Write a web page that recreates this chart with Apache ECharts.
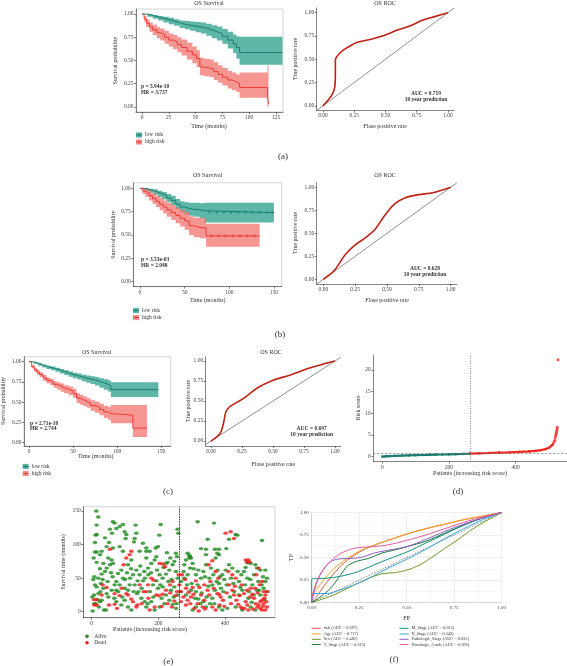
<!DOCTYPE html>
<html><head><meta charset="utf-8">
<script src="https://cdn.jsdelivr.net/npm/echarts@6/dist/echarts.min.js"></script>
<style>html,body{margin:0;padding:0;background:#fff}#c{width:567px;height:666px}</style>
</head><body><div id="c"></div><script>
// ---------------- DATA ----------------
// (a) Kaplan-Meier
const aLowT  = [0,5,10,15,20,25,30,35,40,45,50,55,60,65,70,75,80,85,88,91,131];
const aLowS  = [1,0.985,0.97,0.955,0.94,0.925,0.91,0.89,0.88,0.87,0.86,0.85,0.83,0.81,0.79,0.76,0.72,0.68,0.64,0.585,0.585];
const aLowLo = [1,0.97,0.95,0.93,0.91,0.89,0.875,0.85,0.835,0.82,0.805,0.79,0.765,0.74,0.715,0.68,0.63,0.58,0.52,0.455,0.455];
const aLowHi = [1,1,0.99,0.98,0.97,0.96,0.945,0.93,0.925,0.92,0.915,0.91,0.895,0.88,0.865,0.84,0.81,0.78,0.76,0.755,0.755];
const aHighT  = [0,2,4,7,10,14,17,21,25,29,33,37,42,47,51,54,58,63,67,71,75,80,84,88,91,117,118];
const aHighS  = [1,0.95,0.9,0.86,0.83,0.8,0.78,0.75,0.72,0.7,0.67,0.64,0.6,0.56,0.52,0.43,0.42,0.41,0.38,0.35,0.32,0.29,0.27,0.25,0.21,0.11,0.03];
const aHighLo = [1,0.92,0.86,0.81,0.775,0.74,0.715,0.68,0.65,0.62,0.59,0.555,0.51,0.47,0.43,0.34,0.33,0.32,0.29,0.26,0.23,0.2,0.18,0.16,0.1,0.0,0.0];
const aHighHi = [1,0.98,0.94,0.91,0.885,0.86,0.845,0.82,0.79,0.775,0.75,0.725,0.69,0.65,0.61,0.53,0.52,0.51,0.48,0.45,0.42,0.39,0.37,0.35,0.37,0.45,0.45];
// (b) Kaplan-Meier
const bLowT  = [0,5,10,15,20,25,30,35,40,45,50,55,60,67,72,150];
const bLowS  = [1,0.99,0.975,0.96,0.94,0.92,0.895,0.87,0.83,0.8,0.785,0.775,0.77,0.76,0.74,0.74];
const bLowLo = [1,0.975,0.955,0.93,0.905,0.88,0.85,0.82,0.775,0.74,0.72,0.705,0.695,0.68,0.635,0.635];
const bLowHi = [1,1,0.995,0.99,0.975,0.96,0.94,0.92,0.885,0.86,0.85,0.845,0.845,0.84,0.845,0.845];
const bHighT  = [0,3,6,10,14,18,22,26,30,35,40,45,50,55,60,67,74,134];
const bHighS  = [1,0.97,0.95,0.92,0.89,0.86,0.83,0.8,0.77,0.74,0.71,0.68,0.65,0.6,0.58,0.575,0.49,0.49];
const bHighLo = [1,0.94,0.91,0.87,0.835,0.8,0.765,0.73,0.695,0.66,0.625,0.59,0.555,0.5,0.475,0.465,0.375,0.375];
const bHighHi = [1,1,0.99,0.97,0.945,0.92,0.895,0.87,0.845,0.82,0.795,0.77,0.745,0.7,0.685,0.685,0.62,0.62];
// (c) Kaplan-Meier
const cLowT  = [0,5,10,15,20,25,30,35,40,45,50,55,60,65,70,75,80,85,90,93,147];
const cLowS  = [1,0.985,0.965,0.945,0.93,0.915,0.9,0.88,0.865,0.845,0.83,0.815,0.8,0.785,0.775,0.76,0.74,0.72,0.7,0.655,0.655];
const cLowLo = [1,0.975,0.95,0.93,0.91,0.895,0.875,0.855,0.835,0.815,0.795,0.78,0.76,0.74,0.725,0.705,0.68,0.655,0.63,0.565,0.565];
const cLowHi = [1,0.995,0.98,0.965,0.95,0.94,0.925,0.91,0.895,0.88,0.865,0.855,0.84,0.83,0.82,0.81,0.795,0.785,0.77,0.745,0.745];
const cHighT  = [0,3,6,9,12,16,20,24,28,32,36,40,45,50,54,58,62,66,70,75,80,85,90,93,118,134];
const cHighS  = [1,0.94,0.9,0.87,0.84,0.8,0.77,0.75,0.72,0.7,0.68,0.66,0.64,0.61,0.55,0.53,0.51,0.49,0.46,0.44,0.41,0.38,0.36,0.34,0.18,0.18];
const cHighLo = [1,0.92,0.875,0.84,0.81,0.765,0.735,0.71,0.68,0.655,0.63,0.61,0.585,0.555,0.49,0.47,0.45,0.43,0.395,0.37,0.34,0.305,0.28,0.24,0.07,0.07];
const cHighHi = [1,0.96,0.925,0.9,0.87,0.835,0.805,0.79,0.76,0.745,0.73,0.71,0.695,0.665,0.61,0.59,0.57,0.55,0.525,0.51,0.48,0.455,0.44,0.465,0.465,0.465];
// censoring marks (time)
const bLowCens  = [78,86,94,102,110,118,126,134,142,148];
const bHighCens = [80,88,96,104,112,120,128];
// ROC curves [FPR, TPR]
const aRoc = [[0,0],[0.04,0.06],[0.072,0.118],[0.093,0.19],[0.099,0.3],[0.1,0.495],[0.13,0.56],[0.165,0.6],[0.22,0.645],[0.27,0.68],[0.4,0.72],[0.5,0.76],[0.59,0.81],[0.7,0.86],[0.8,0.92],[0.9,0.96],[1,1]];
const bRoc = [[0,0],[0.078,0.083],[0.12,0.16],[0.17,0.264],[0.25,0.373],[0.34,0.46],[0.41,0.55],[0.48,0.69],[0.56,0.82],[0.64,0.885],[0.75,0.92],[0.86,0.94],[1,1]];
const cRoc = [[0,0],[0.073,0.095],[0.1,0.22],[0.12,0.365],[0.148,0.425],[0.19,0.467],[0.26,0.53],[0.37,0.66],[0.5,0.76],[0.64,0.825],[0.77,0.9],[0.9,0.96],[1,1]];
const aucText = ['AUC = 0.719','AUC = 0.628','AUC = 0.697'];
// (d) risk score, sorted patients
const riskLowIdx  = [0,10,20,40,60,80,100,120,140,160,180,200,220,240,262];
const riskLowVal  = [0.02,0.08,0.13,0.2,0.26,0.31,0.35,0.39,0.43,0.47,0.51,0.55,0.59,0.63,0.68];
const riskHighIdx = [263,290,320,350,380,410,440,460,475,490,500,507,512];
const riskHighVal = [0.72,0.78,0.85,0.93,1.0,1.1,1.22,1.35,1.5,1.75,2.05,2.5,2.9];
const riskTailIdx = [515,517,519,520,521,522,523,524,525,527];
const riskTailVal = [3.4,3.8,4.4,4.9,5.2,5.5,5.9,6.3,6.8,22.3];
const riskCut = 0.75, cutPatient = 263;
// (e) survival status
const alive = [[14,150],[20,141],[15,129],[15,115],[12,114],[10,103],[15,89],[25,85],[6,80],[15,73.5],[55,123],[64,134],[69,132],[61,117],[40,110],[52,103],[74,124],[94,130],[84,127],[99,119],[102,109],[104,115],[132,129],[134,117],[129,109],[127,104],[164,95],[164,90],[207,130],[203,114],[192,95],[199,97],[223,72],[228,73.5],[253,87],[256,82],[258,123],[260,117],[318,134],[367,132],[288,87],[293,84],[295,82],[298,80],[328,94],[343,93],[348,108],[370,93],[382,93],[377,87],[404,94],[412,108],[432,115],[437,114],[467,73],[477,72],[511,106],
[3,1],[7,25],[15,37],[20,27],[25,15],[22,7],[30,17],[37,2.5],[43,2.5],[45,27],[50,22],[20,50],[30,56],[40,60],[45,65],[55,70],[64,72],[25,64],[35,72],[50,80],[60,77],[63,52],[74,45],[79,57],[89,62],[94,50],[84,40],[99,35],[109,32],[114,40],[74,15],[89,10],[99,17],[109,7],[119,2.5],[124,55],[134,62],[144,55],[154,46],[129,40],[136,27],[149,20],[159,15],[164,7],[179,15],[189,2.5],[204,7],[169,65],[179,72],[189,77],[194,82],[204,55],[213,50],[223,56],[233,62],[243,70],[248,75],[253,60],[258,50],[223,25],[233,17],[243,11],[253,5],[164,80],[144,90],[154,102],[174,90],[119,77],[109,70],[94,90],[84,97],[64,95],[45,97],[30,90],[10,89],[60,32],[69,40],[74,32],[184,40],[194,46],[199,35],[213,37],[238,32],[248,37],[258,25],
[268,45],[278,50],[288,55],[295,65],[303,72],[313,55],[320,62],[328,50],[335,60],[343,70],[283,25],[298,32],[313,30],[320,19],[303,2.5],[313,7],[335,15],[343,7],[353,50],[362,40],[370,32],[382,42],[392,55],[402,62],[412,70],[422,65],[362,20],[382,7],[392,2.5],[407,5],[442,45],[449,55],[457,60],[467,50],[442,25],[452,32],[472,30],[482,40],[487,55],[491,70],[496,65],[506,62],[496,32],[506,25],[516,35],[521,45],[432,7],[452,2.5],[477,7],[491,2.5],[372,80],[382,85],[343,85],[278,70],[283,77],[293,80],[521,62],[526,50],
[8,12],[12,12],[18,18],[5,48],[8,52],[28,42],[35,35],[100,48],[115,50],[140,30],[150,35],[160,50],[170,55],[175,30],[185,22],[210,20],[218,12],[230,45],[240,48],[300,42],[310,20],[330,28],[345,22],[355,12],[365,55],[375,45],[385,52],[395,30],[405,40],[415,22],[425,42],[438,60],[460,40],[470,20],[480,14],[500,45],[510,40],[518,18],
[2,22],[10,40],[26,30],[33,48],[48,45],[58,58],[68,20],[80,30],[92,22],[106,58],[118,64],[126,30],[138,46],[146,68],[158,60],[168,12],[178,58],[196,62],[206,40],[216,66],[226,88],[236,80],[246,22],[255,12],[266,30],[276,60],[286,40],[306,64],[318,40],[326,12],[340,52],[350,38],[358,65],[368,12],[378,62],[388,35],[398,48],[418,50],[428,30],[446,36],[462,66],[476,48],[486,25],[502,32],[514,52],[524,30]];
const dead = [[7,18],[15,18],[8,10],[15,10],[55,93],[52,10],[69,11],[76,5],[33,40],[45,36],[69,27],[84,24],[96,70],[104,80],[114,85],[119,90],[104,27],[109,25],[119,19],[124,15],[134,7],[137,10],[144,40],[156,30],[164,30],[169,40],[179,50],[186,47],[194,25],[202,24],[213,26],[204,72],[213,71],[220,67],[223,32],[235,40],[243,45],[174,2.5],[189,7],[228,12],[248,16],[251,24],[241,7],[261,55],[263,40],
[271,55],[283,35],[291,29],[298,22],[303,36],[313,46],[323,36],[308,5],[321,1],[333,7],[338,40],[348,32],[353,25],[351,70],[362,76],[372,60],[377,27],[382,26],[387,22],[394,17],[362,7],[372,2.5],[384,10],[402,117],[417,119],[427,109],[410,60],[422,55],[432,50],[412,40],[422,32],[427,25],[434,17],[440,11],[447,7],[452,5],[457,27],[462,15],[467,10],[470,2.5],[462,77],[470,77],[467,74],[474,74],[477,35],[482,26],[487,20],[492,12],[497,7],[501,10],[506,5],[511,17],[516,30],[521,25],[526,7],[511,2.5],[521,2.5],[516,12],[506,15],[511,45],[501,65],[494,55],[283,10],[288,17],[268,15],[275,22],[338,17],[328,25],
[268,30],[280,48],[296,12],[306,26],[318,12],[340,4],[356,45],[366,35],[380,50],[398,8],[405,28],[418,12],[430,38],[444,24],[450,40],[458,5],[466,32],[476,22],[484,4],[490,35],[498,28],[504,40],[514,8],[518,20],[524,15],[528,30],[150,12],[170,20],[210,8],[236,28],[256,30],[90,35],[30,25]];
// (f) multi-variable ROC
const fNames = ['risk (AUC = 0.697)','Age (AUC = 0.717)','Sex (AUC = 0.482)','T_Stage (AUC = 0.612)','M_Stage (AUC = 0.615)','N_Stage (AUC = 0.543)','Pathologic_Stage (AUC = 0.635)','Histologic_Grade (AUC = 0.695)'];
const fRisk = [[0,0],[0.03,0.08],[0.06,0.17],[0.1,0.28],[0.15,0.4],[0.2,0.49],[0.25,0.56],[0.32,0.63],[0.4,0.69],[0.5,0.76],[0.6,0.82],[0.7,0.87],[0.8,0.92],[0.9,0.96],[1,1]];
const fAge  = [[0,0.07],[0.03,0.16],[0.07,0.27],[0.12,0.38],[0.18,0.48],[0.25,0.57],[0.32,0.63],[0.4,0.69],[0.5,0.76],[0.6,0.82],[0.7,0.87],[0.8,0.92],[0.9,0.96],[1,1]];
const fSex  = [[0,0],[0.1,0.07],[0.2,0.17],[0.29,0.26],[0.37,0.32],[0.43,0.33],[0.5,0.36],[0.57,0.42],[0.63,0.5],[0.7,0.6],[0.77,0.7],[0.85,0.82],[0.93,0.92],[1,1]];
const fT    = [[0,0],[0.05,0.07],[0.1,0.16],[0.15,0.3],[0.19,0.41],[0.24,0.46],[0.3,0.49],[0.37,0.55],[0.43,0.58],[0.5,0.62],[0.6,0.68],[0.7,0.77],[0.8,0.86],[0.9,0.94],[1,1]];
const fM    = [[0,0],[0,0.26],[0.08,0.27],[0.15,0.29],[0.24,0.34],[0.32,0.41],[0.4,0.48],[0.5,0.56],[0.6,0.66],[0.7,0.76],[0.8,0.86],[0.9,0.94],[1,1]];
const fN    = [[0,0],[0,0.1],[0.08,0.1],[0.15,0.14],[0.24,0.21],[0.32,0.29],[0.4,0.38],[0.5,0.48],[0.6,0.59],[0.7,0.71],[0.8,0.82],[0.9,0.92],[1,1]];
const fPath = [[0,0],[0.02,0.18],[0.05,0.33],[0.09,0.44],[0.13,0.48],[0.2,0.49],[0.26,0.5],[0.33,0.55],[0.4,0.58],[0.5,0.62],[0.6,0.7],[0.7,0.79],[0.8,0.87],[0.9,0.94],[1,1]];
const fHist = [[0,0.05],[0.02,0.2],[0.05,0.33],[0.09,0.44],[0.14,0.53],[0.2,0.59],[0.25,0.61],[0.32,0.62],[0.4,0.64],[0.5,0.69],[0.6,0.75],[0.7,0.82],[0.8,0.89],[0.9,0.95],[1,1]];
const fColors = ['#f0533f','#f2a81d','#6d9a22','#1d7a3a','#11907f','#3aa3de','#8c5cc0','#e45a9c'];

// ---------------- STYLE ----------------
const F = 'Liberation Serif, serif';
const AX = '#333';
const TEAL_L = '#0d6e60', TEAL_F = 'rgba(40,158,138,0.75)';
const RED_L = '#e8261e', RED_F = 'rgba(242,110,104,0.72)';
const ROC_C = '#d8281a';
const f2 = v => v.toFixed(2), f0 = v => String(v);

function axis(gi, min, max, ticks, fmt, extra) {
  return Object.assign({
    type:'value', gridIndex:gi, min:min, max:max,
    axisLine:{show:true, onZero:false, lineStyle:{color:AX,width:0.6}},
    axisTick:{show:true, length:2, customValues:ticks, lineStyle:{color:AX,width:0.6}},
    axisLabel:{customValues:ticks, fontSize:5.5, fontFamily:F, color:'#444', margin:2.5, formatter:fmt},
    splitLine:{show:false}
  }, extra || {});
}
const P4 = [0,0.25,0.5,0.75,1];
const grids = [
  {left:136, top:9, width:147, height:103},
  {left:316.7, top:8, width:137.5, height:102.5},
  {left:133.3, top:182.7, width:148.4, height:104},
  {left:316.7, top:182.7, width:140.3, height:101.3},
  {left:24, top:356.7, width:146.7, height:89.3},
  {left:205.7, top:356.7, width:135, height:89.3},
  {left:373.3, top:355, width:193.4, height:106.7},
  {left:83.3, top:506.7, width:191.7, height:111},
  {left:311.7, top:512.5, width:190, height:90}
].map((g,i) => Object.assign(g, {containLabel:false, show:[0,2,4,7].includes(i), borderColor:'#aaa', borderWidth:0.5}));

const fAxis = gi => ({type:'value', gridIndex:gi, min:0, max:1, interval:0.25,
   axisLine:{show:true, lineStyle:{color:'#bbb',width:0.5}}, axisTick:{show:false},
   axisLabel:{fontSize:5, fontFamily:F, color:'#444', margin:3, formatter:f2},
   splitLine:{show:true, lineStyle:{color:'#e4e4e4',width:0.6}},
   minorTick:{show:false, splitNumber:2}, minorSplitLine:{show:true, lineStyle:{color:'#efefef',width:0.5}}});

const xAxes = [
  axis(0,-5.6,131.5,[0,25,50,75,100,125],f0),
  axis(1,-0.05,1.05,P4,f2),
  axis(2,-7.5,158.7,[0,50,100,150],f0),
  axis(3,-0.052,1.05,P4,f2),
  axis(4,-5.7,161,[0,50,100,150],f0),
  axis(5,-0.043,1.046,P4,f2),
  axis(6,-27,553,[0,200,400],f0),
  axis(7,-25,550,[0,200,400],f0),
  fAxis(8)
];
const yAxes = [
  axis(0,-0.054,1.054,P4,f2),
  axis(1,-0.05,1.05,P4,f2),
  axis(2,-0.054,1.06,P4,f2),
  axis(3,-0.051,1.05,P4,f2),
  axis(4,-0.041,1.062,P4,f2),
  axis(5,-0.062,1.054,P4,f2),
  axis(6,-1.15,23.4,[0,5,10,15,20],f0),
  axis(7,-8.9,156.4,[0,50,100,150],f0),
  fAxis(8)
];

// ---------------- SERIES ----------------
const series = [];
function band(gi, T, lo, hi, color) {
  series.push({type:'custom', xAxisIndex:gi, yAxisIndex:gi, silent:true, clip:true, z:1,
    data:[[0,0]],
    renderItem: function(params, api) {
      const up = [], dn = [];
      for (let i = 0; i < T.length; i++) {
        const tn = i < T.length - 1 ? T[i+1] : T[i];
        up.push(api.coord([T[i], hi[i]]), api.coord([tn, hi[i]]));
        dn.push(api.coord([T[i], lo[i]]), api.coord([tn, lo[i]]));
      }
      return {type:'polygon', shape:{points: up.concat(dn.reverse())}, style:{fill:color}};
    }});
}
function kmLine(gi, T, S, color) {
  series.push({type:'line', xAxisIndex:gi, yAxisIndex:gi, step:'end', showSymbol:false, silent:true, z:3,
    data: T.map((t,i) => [t, S[i]]), lineStyle:{color:color, width:0.8}});
}
const PLUS = 'path://M4,0H6V4H10V6H6V10H4V6H0V4H4Z';
function censor(gi, times, T, S, color) {
  series.push({type:'scatter', xAxisIndex:gi, yAxisIndex:gi, silent:true, z:4, symbol:PLUS, symbolSize:3,
    itemStyle:{color:color},
    data: times.map(t => { let s = S[0]; for (let i=0;i<T.length;i++) if (T[i] <= t) s = S[i]; return [t, s]; })});
}
function km(gi, lt, ls, llo, lhi, ht, hs, hlo, hhi) {
  band(gi, lt, llo, lhi, TEAL_F);
  band(gi, ht, hlo, hhi, RED_F);
  kmLine(gi, lt, ls, TEAL_L);
  kmLine(gi, ht, hs, RED_L);
}
km(0, aLowT, aLowS, aLowLo, aLowHi, aHighT, aHighS, aHighLo, aHighHi);
km(2, bLowT, bLowS, bLowLo, bLowHi, bHighT, bHighS, bHighLo, bHighHi);
km(4, cLowT, cLowS, cLowLo, cLowHi, cHighT, cHighS, cHighLo, cHighHi);
censor(2, bLowCens, bLowT, bLowS, TEAL_L);
censor(2, bHighCens, bHighT, bHighS, RED_L);

function roc(gi, pts, lo, hi) {
  series.push({type:'line', xAxisIndex:gi, yAxisIndex:gi, showSymbol:false, silent:true, z:2,
    data:[[lo,lo],[hi,hi]], lineStyle:{color:'#222', width:0.5}});
  series.push({type:'line', xAxisIndex:gi, yAxisIndex:gi, showSymbol:false, silent:true, z:3, smooth:0.3,
    data:pts, lineStyle:{color:ROC_C, width:1.6}});
  series.push({type:'line', xAxisIndex:gi, yAxisIndex:gi, showSymbol:false, silent:true, z:4, smooth:0.3,
    data:pts, lineStyle:{color:'#6b1a10', width:0.35}});
}
roc(1, aRoc, -0.05, 1.05);
roc(3, bRoc, -0.052, 1.05);
roc(5, cRoc, -0.043, 1.046);

// (d)
series.push({type:'line', xAxisIndex:6, yAxisIndex:6, silent:true, z:3, symbol:'circle', symbolSize:2.6, showAllSymbol:true,
  data: riskLowIdx.map((x,i)=>[x, riskLowVal[i]]), itemStyle:{color:'#1b7d72'}, lineStyle:{color:'#1b7d72', width:2.2},
  markLine:{silent:true, symbol:'none', label:{show:false}, animation:false,
    data:[{yAxis:riskCut, lineStyle:{type:[2,2], color:'#666', width:0.7}},
          {xAxis:cutPatient, lineStyle:{type:[1,1.5], color:'#888', width:1}}]}});
series.push({type:'line', xAxisIndex:6, yAxisIndex:6, silent:true, z:3, symbol:'circle', symbolSize:2.6, showAllSymbol:true,
  data: riskHighIdx.map((x,i)=>[x, riskHighVal[i]]), itemStyle:{color:'#f22a22'}, lineStyle:{color:'#f22a22', width:2.2}});
series.push({type:'scatter', xAxisIndex:6, yAxisIndex:6, silent:true, z:3, symbolSize:3,
  data: riskTailIdx.map((x,i)=>[x, riskTailVal[i]]), itemStyle:{color:'#f22a22'}});

// (e)
series.push({type:'scatter', xAxisIndex:7, yAxisIndex:7, silent:true, z:3, symbol:'circle', symbolSize:[4.6,3.4],
  data: alive, itemStyle:{color:'#1e8a1e'},
  markLine:{silent:true, symbol:'none', label:{show:false}, animation:false,
    data:[{xAxis:cutPatient}], lineStyle:{type:[1.5,1], color:'#222', width:0.9}}});
series.push({type:'scatter', xAxisIndex:7, yAxisIndex:7, silent:true, z:3, symbol:'circle', symbolSize:[4.6,3.4],
  data: dead, itemStyle:{color:'#ee1c1c'}});

// (f)
[fRisk,fAge,fSex,fT,fM,fN,fPath,fHist].forEach((d,i) => {
  series.push({type:'line', xAxisIndex:8, yAxisIndex:8, silent:true, z:3, showSymbol:false, smooth:0.3,
    data:d, lineStyle:{color:fColors[i], width:1}});
});
series.push({type:'line', xAxisIndex:8, yAxisIndex:8, silent:true, z:2, showSymbol:false,
  data:[[0,0],[1,1]], lineStyle:{color:'#333', width:0.6, type:[1.5,1.5]}});

// ---------------- TEXT / LEGENDS ----------------
const G = [];
function txt(x, y, s, o) {
  o = o || {};
  G.push({type:'text', x:x, y:y, rotation:o.rot || 0, silent:true, z:10,
    style:{text:s, fontSize:o.size || 6, fontFamily:F, fontWeight:o.bold ? 'bold' : 'normal',
      fill:o.color || '#333', align:o.align || 'center', verticalAlign:'middle'}});
}
const R90 = Math.PI / 2;
function kmLegend(x, y1, y2) {
  [[y1,'low risk',TEAL_F,TEAL_L],[y2,'high risk',RED_F,RED_L]].forEach(r => {
    G.push({type:'rect', silent:true, shape:{x:x, y:r[0]-2.6, width:6, height:5.2}, style:{fill:r[2]}});
    G.push({type:'line', silent:true, shape:{x1:x, y1:r[0], x2:x+6, y2:r[0]}, style:{stroke:r[3], lineWidth:0.7}});
    G.push({type:'line', silent:true, shape:{x1:x+3, y1:r[0]-1.5, x2:x+3, y2:r[0]+1.5}, style:{stroke:r[3], lineWidth:0.7}});
    txt(x+9, r[0], r[1], {size:5.5, align:'left'});
  });
}
// (a)
txt(209, 3.5, 'OS Survival');
txt(209, 126, 'Time (months)');
txt(115, 60.5, 'Survival probability', {rot:R90});
txt(141, 87, 'p = 5.94e-10', {size:5.5, bold:true, align:'left'});
txt(141, 92.5, 'HR = 3.737', {size:5.5, bold:true, align:'left'});
kmLegend(136, 135, 142);
txt(283, 157, '(a)', {size:9});
txt(385, 3.5, 'OS ROC');
txt(385, 126, 'Flase positive rate');
txt(295, 59, 'True positive rate', {rot:R90});
txt(426, 94, aucText[0], {size:5.5, bold:true});
txt(426, 99.5, '10 year prediction', {size:5.5, bold:true});
// (b)
txt(207.7, 175, 'OS Survival');
txt(207.7, 300, 'Time (months)');
txt(113, 234.7, 'Survival probability', {rot:R90});
txt(141, 259.3, 'p = 3.53e-03', {size:5.5, bold:true, align:'left'});
txt(141, 266, 'HR = 2.048', {size:5.5, bold:true, align:'left'});
kmLegend(133, 310.5, 317.5);
txt(280, 335, '(b)', {size:9});
txt(385, 175.7, 'OS ROC');
txt(387, 300, 'Flase positive rate');
txt(295, 233, 'True positive rate', {rot:R90});
txt(425, 268.3, aucText[1], {size:5.5, bold:true});
txt(425, 275, '10 year prediction', {size:5.5, bold:true});
// (c)
txt(96.7, 352.5, 'OS Survival');
txt(95.7, 456.7, 'Time (months)');
txt(3.5, 401, 'Survival probability', {rot:R90});
txt(30, 423.3, 'p = 2.71e-10', {size:5.5, bold:true, align:'left'});
txt(30, 428.8, 'HR = 2.744', {size:5.5, bold:true, align:'left'});
kmLegend(22.7, 466.5, 473.5);
txt(168, 491.7, '(c)', {size:9});
txt(271, 352.5, 'OS ROC');
txt(273.3, 464, 'Flase positive rate');
txt(188.3, 401, 'True positive rate', {rot:R90});
txt(311.7, 428.3, aucText[2], {size:5.5, bold:true});
txt(311.7, 435, '10 year prediction', {size:5.5, bold:true});
// (d)
txt(358.3, 408, 'Risk score', {rot:R90});
txt(470, 473, 'Patients (increasing risk score)');
txt(458, 491.7, '(d)', {size:9});
// (e)
txt(63.3, 562, 'Survival time (months)', {rot:R90});
txt(150, 629.3, 'Patients (increasing risk score)');
G.push({type:'circle', silent:true, shape:{cx:87, cy:636.3, r:1.8}, style:{fill:'#1e8a1e'}});
G.push({type:'circle', silent:true, shape:{cx:87, cy:642.8, r:1.8}, style:{fill:'#ee1c1c'}});
txt(94.3, 636.3, 'Alive', {size:5.5, align:'left'});
txt(94.3, 642.8, 'Dead', {size:5.5, align:'left'});
txt(168.3, 661.5, '(e)', {size:9});
// (f)
txt(291.7, 557.5, 'TP', {rot:R90});
txt(406.7, 618.3, 'FP');
const rowsY = [628.3, 634, 639.3, 644.5];
fNames.forEach((n,i) => {
  const col = i < 4 ? 0 : 1, r = i % 4;
  const x0 = col === 0 ? 311.7 : 399.5;
  G.push({type:'line', silent:true, shape:{x1:x0, y1:rowsY[r], x2:x0+9, y2:rowsY[r]}, style:{stroke:fColors[i], lineWidth:1}});
  txt(x0+12, rowsY[r], n, {size:4.3, align:'left'});
});
txt(394, 660, '(f)', {size:9});

const chart = echarts.init(document.getElementById('c'), null, {renderer:'canvas', width:567, height:666});
chart.setOption({
  animation:false, backgroundColor:'#fff',
  grid:grids, xAxis:xAxes, yAxis:yAxes, series:series, graphic:G
});
</script></body></html>
